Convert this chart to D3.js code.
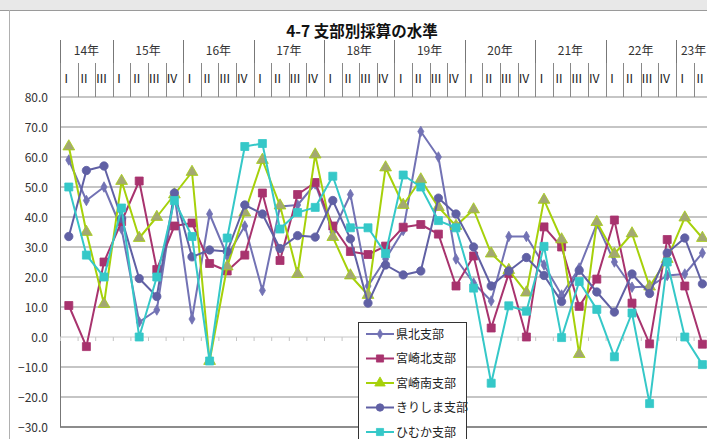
<!DOCTYPE html>
<html><head><meta charset="utf-8">
<script src="https://cdn.jsdelivr.net/npm/d3@7"></script>
<style>
html,body{margin:0;padding:0;background:#fff;}
svg{display:block;}
text{font-family:"Noto Sans CJK JP","Noto Sans",sans-serif;}
</style></head>
<body>
<svg id="c" width="707" height="439"></svg>
<script>
const title = "4-7  支部別採算の水準";
const years = ["14年","15年","16年","17年","18年","19年","20年","21年","22年","23年"];
const yearQuarters = [3,4,4,4,4,4,4,4,4,2];
const quarterNames = ["Ⅰ","Ⅱ","Ⅲ","Ⅳ"];
const yTicks = [80,70,60,50,40,30,20,10,0,-10,-20,-30];
const seriesNames = ["県北支部","宮崎北支部","宮崎南支部","きりしま支部","ひむか支部"];
const kenhoku   = [59,45.5,50,36,5,9,47.5,6,41,27,37,15.5,43.5,44,51,35,47.5,17,26,35.5,68.5,60,26,18,12,33.5,33.5,24,14,23,37.7,25,16.6,16.8,20.5,21,28];
const miyazakiKita = [10.5,-3.2,25,38.5,52,22.5,37,38,24.5,22,27.3,48,25.5,47.5,51.5,37,28.5,27.5,30.3,36.6,37.5,34.3,17,27,3,21.2,0,36.7,30,10.2,19.3,39,11.3,-2.3,32.5,17,-2.4];
const miyazakiMinami = [63.5,35,11,52,33,40,47.5,55,-8,23.5,41.5,59,43.8,21,60.8,33.3,20.5,14,56.5,44,52.5,43.3,37,42.5,27.8,22.3,14.8,45.7,32.5,-5.7,38.3,27.7,34.5,16.8,26,39.8,33];
const kirishima = [33.5,55.5,57,39.5,19.5,13.5,48,26.7,29,28.5,44,41,29.5,33.8,33.3,45.5,32.7,11.3,24,20.7,22,46.3,41,30,17,22,26.5,20.5,11.8,22.2,15,8.3,21,14.5,28,33,17.7];
const himuka = [50,27.3,20,43,0,20,45.5,33.5,-8,33,63.5,64.5,36,41.5,43.2,53.6,36.4,36.4,27.8,54,50,38.8,36.4,16.3,-15.4,10.4,8.6,30.2,-0.2,18.5,9.2,-6.6,8,-22.2,25,0,-9.2];

const seriesData = [kenhoku, miyazakiKita, miyazakiMinami, kirishima, himuka];
const colors = ["#7272b4","#a8336e","#a6d10a","#6060a4","#35c8c8"];
const markerFill = ["#7272b4","#a8336e","#a3a872","#6060a4","#35c8c8"];
const symbols = [d3.symbolDiamond, d3.symbolSquare, d3.symbolTriangle, d3.symbolCircle, d3.symbolSquare];
const symSize = [32,64,60,55,64];

const qKeys = [];
const qLabels = [];
years.forEach((y,yi)=>{
  for(let k=0;k<yearQuarters[yi];k++){ qKeys.push(y+"-"+k); qLabels.push(quarterNames[k]); }
});

const svg = d3.select("#c");
const W=707,H=439;
const left=60, qw=17.6;
const x = d3.scaleBand().domain(qKeys).range([left,left+qKeys.length*qw]).padding(0);
const y = d3.scaleLinear().domain([-30,80]).range([427,97]);

// frame
svg.append("rect").attr("x",0).attr("y",0).attr("width",W).attr("height",10).attr("fill","#e8e8e8");
svg.append("line").attr("x1",0).attr("x2",W).attr("y1",10.5).attr("y2",10.5).attr("stroke","#9a9a9a");
svg.append("line").attr("x1",9.5).attr("x2",9.5).attr("y1",10).attr("y2",H).attr("stroke","#b0b0b0");

// title
svg.append("text").attr("x",362).attr("y",37).attr("text-anchor","middle")
  .attr("font-size",15.5).attr("font-weight","bold").attr("fill","#111").text(title);

// gridlines
yTicks.forEach(t=>{
  if(t===0) return;
  svg.append("line").attr("x1",left).attr("x2",W).attr("y1",y(t)).attr("y2",y(t))
    .attr("stroke", t===-30?"#666":"#8c8c8c").attr("stroke-width", t===-30?1.5:1.2);
});
svg.append("g").selectAll("text").data(yTicks).join("text")
  .attr("x",48).attr("y",d=>y(d)+4.5).attr("text-anchor","end")
  .attr("font-size",12).attr("fill","#333")
  .attr("font-family","'Liberation Sans',Arial,sans-serif")
  .text(d=>d3.format(".1f")(d));
svg.append("line").attr("x1",left+0.5).attr("x2",left+0.5).attr("y1",y(80)).attr("y2",y(-30)).attr("stroke","#777");

// category axis at 0
svg.append("line").attr("x1",left).attr("x2",W).attr("y1",y(0)).attr("y2",y(0)).attr("stroke","#c4c4c4");
svg.append("g").selectAll("line").data(qKeys).join("line")
  .attr("x1",d=>x(d)+0.5).attr("x2",d=>x(d)+0.5).attr("y1",y(0)).attr("y2",y(0)+4).attr("stroke","#c4c4c4");

// header table
let idx=0;
years.forEach((yr,yi)=>{
  const n=yearQuarters[yi];
  const x0 = x(qKeys[idx]);
  const x1 = x0 + n*x.bandwidth();
  svg.append("line").attr("x1",Math.round(x0)+0.5).attr("x2",Math.round(x0)+0.5).attr("y1",40).attr("y2",y(80)).attr("stroke","#777");
  svg.append("text").attr("x",(x0+x1)/2).attr("y",55).attr("text-anchor","middle")
    .attr("font-size",12).attr("fill","#333").text(yr);
  idx+=n;
});
svg.append("g").selectAll("line").data(qKeys).join("line")
  .attr("x1",d=>Math.round(x(d))+0.5).attr("x2",d=>Math.round(x(d))+0.5)
  .attr("y1",63).attr("y2",y(80)).attr("stroke","#888");
svg.append("g").selectAll("text").data(qKeys).join("text")
  .attr("x",d=>x(d)+x.bandwidth()/2-2.5).attr("y",83).attr("text-anchor","middle")
  .attr("font-size",12).attr("fill","#222")
  .attr("font-family","'Noto Sans CJK JP','DejaVu Serif',serif")
  .text((d,i)=>qLabels[i]);

// series
const line = d3.line().x((d,i)=>x(qKeys[i])+x.bandwidth()/2).y(d=>y(d));
seriesData.forEach((arr,si)=>{
  const g = svg.append("g");
  g.append("path").datum(arr).attr("d",line).attr("fill","none")
    .attr("stroke",colors[si]).attr("stroke-width",2).attr("stroke-linejoin","round");
  g.selectAll("path.m").data(arr).join("path").attr("class","m")
    .attr("transform",(d,i)=>`translate(${x(qKeys[i])+x.bandwidth()/2},${y(d)})`)
    .attr("d",d3.symbol().type(symbols[si]).size(symSize[si]))
    .attr("fill",markerFill[si]).attr("stroke",colors[si]).attr("stroke-width",0.8);
});

// legend
const lg = svg.append("g");
lg.append("rect").attr("x",358.5).attr("y",322.5).attr("width",108).attr("height",130)
  .attr("fill","#fff").attr("stroke","#333").attr("stroke-width",1);
seriesNames.forEach((nm,si)=>{
  const cy = 334 + si*24.5;
  lg.append("line").attr("x1",366).attr("x2",394).attr("y1",cy).attr("y2",cy)
    .attr("stroke",colors[si]).attr("stroke-width",2);
  lg.append("path").attr("transform",`translate(380,${cy})`)
    .attr("d",d3.symbol().type(symbols[si]).size(symSize[si]*0.8))
    .attr("fill",si===2?colors[si]:markerFill[si]).attr("stroke",colors[si]).attr("stroke-width",0.8);
  lg.append("text").attr("x",396).attr("y",cy+4.5).attr("font-size",12).attr("fill","#222").text(nm);
});
</script>
</body></html>
